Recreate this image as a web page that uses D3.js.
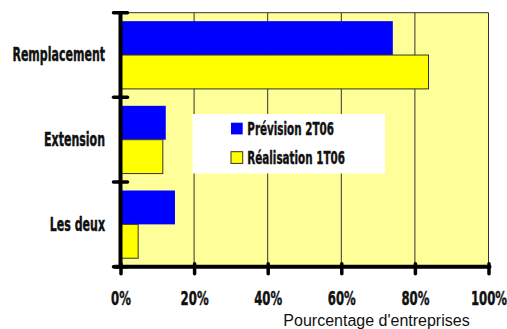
<!DOCTYPE html>
<html>
<head>
<meta charset="utf-8">
<script src="https://cdn.jsdelivr.net/npm/d3@7"></script>
<style>
  html, body { margin: 0; padding: 0; background: #fff; }
  svg { display: block; }
  text.cond { font-family: "DejaVu Sans", sans-serif; font-weight: bold; stroke: #111; stroke-width: 0.45px; }
</style>
</head>
<body>
<svg id="chart" width="507" height="329"></svg>
<script>
// Categories (top to bottom) and the two series, in percent of firms
const categories = ["Remplacement", "Extension", "Les deux"];
const seriesNames = ["Prévision 2T06", "Réalisation 1T06"];
const prevision = [74, 12.3, 14.8];
const realisation = [83.7, 11.5, 4.8];
const xTicks = [0, 20, 40, 60, 80, 100];
const xTitle = "Pourcentage d'entreprises";

const colors = ["#0000FF", "#FFFF00"];
const rows = categories.map((c, i) => ({ cat: c, values: [prevision[i], realisation[i]] }));

// squeeze a bold face horizontally into a narrow, poster-like look
function condense(sel, factor) {
  sel.each(function () {
    const w = this.getComputedTextLength();
    d3.select(this).attr("textLength", w * factor).attr("lengthAdjust", "spacingAndGlyphs");
  });
}

const svg = d3.select("#chart");
const m = { left: 120.5, right: 18.5, top: 12.7, bottom: 62.3 };
const W = 507, H = 329;
const x = d3.scaleLinear().domain([0, 100]).range([m.left, W - m.right]);
const y = d3.scaleBand().domain(categories).range([m.top, H - m.bottom]).paddingInner(0).paddingOuter(0);
const inner = d3.scaleBand().domain(seriesNames).range([0, y.bandwidth()]).paddingOuter(0.25).paddingInner(0);

// plot background
svg.append("rect")
  .attr("x", x(0)).attr("y", y.range()[0])
  .attr("width", x(100) - x(0)).attr("height", y.range()[1] - y.range()[0])
  .attr("fill", "#FFFF99");

// vertical gridlines and top frame
svg.append("g").selectAll("line").data(xTicks.slice(1))
  .join("line")
  .attr("x1", d => x(d)).attr("x2", d => x(d))
  .attr("y1", y.range()[0]).attr("y2", y.range()[1])
  .attr("stroke", "#333").attr("stroke-width", 1);
svg.append("line")
  .attr("x1", x(0)).attr("x2", x(100))
  .attr("y1", y.range()[0]).attr("y2", y.range()[0])
  .attr("stroke", "#333").attr("stroke-width", 1);

// bars
const groups = svg.append("g").selectAll("g").data(rows).join("g")
  .attr("transform", d => `translate(0,${y(d.cat)})`);
groups.selectAll("rect")
  .data(d => d.values.map((v, k) => ({ v, k })))
  .join("rect")
  .attr("x", x(0))
  .attr("y", d => inner(seriesNames[d.k]))
  .attr("width", d => x(d.v) - x(0))
  .attr("height", inner.bandwidth())
  .attr("fill", d => colors[d.k])
  .attr("stroke", d => d.k === 1 ? "#333" : "none")
  .attr("stroke-width", 1);

// x axis: labels are condensed, then right-anchored at half their squeezed width
const xAxis = d3.axisBottom(x).tickValues(xTicks).tickFormat(d => d + "%").tickSize(0).tickPadding(0);
const gx = svg.append("g").attr("transform", `translate(0,${y.range()[1]})`).call(xAxis);
gx.select(".domain").remove();
gx.selectAll(".tick text").attr("class", "cond").attr("font-size", 19.5).attr("fill", "#111")
  .attr("dy", 0).attr("y", 38.3).call(condense, 0.6)
  .each(function () {
    const tl = +this.getAttribute("textLength");
    d3.select(this).attr("text-anchor", "end").attr("x", tl / 2);
  });
gx.selectAll(".tick").append("line")
  .attr("y1", -3).attr("y2", 7)
  .attr("stroke", "#000").attr("stroke-width", 3.5).attr("stroke-linecap", "round");
svg.append("line")
  .attr("x1", x(0) - 6).attr("x2", x(100) + 1)
  .attr("y1", y.range()[1]).attr("y2", y.range()[1])
  .attr("stroke", "#000").attr("stroke-width", 4).attr("stroke-linecap", "round");

// y axis
const yAxis = d3.axisLeft(y).tickSize(0).tickPadding(15.5);
const gy = svg.append("g").attr("transform", `translate(${x(0)},0)`).call(yAxis);
gy.select(".domain").remove();
gy.selectAll(".tick text").attr("class", "cond").attr("font-size", 19.5).attr("fill", "#111")
  .call(condense, 0.565);
const boundaries = categories.map(c => y(c)).concat([y.range()[1]]);
svg.append("g").selectAll("line").data(boundaries).join("line")
  .attr("x1", x(0) - 7).attr("x2", x(0) + 7)
  .attr("y1", d => d).attr("y2", d => d)
  .attr("stroke", "#000").attr("stroke-width", 3.5).attr("stroke-linecap", "round");
svg.append("line")
  .attr("x1", x(0)).attr("x2", x(0))
  .attr("y1", y.range()[0]).attr("y2", y.range()[1])
  .attr("stroke", "#000").attr("stroke-width", 4);

// axis title
svg.append("text")
  .attr("x", 376.5).attr("y", 326)
  .attr("text-anchor", "middle")
  .attr("font-family", "Liberation Sans, Arial, sans-serif")
  .attr("font-size", 16).attr("fill", "#111")
  .text(xTitle);

// legend
const lg = svg.append("g").attr("transform", "translate(192.5,114)");
lg.append("rect").attr("width", 192.5).attr("height", 59.5).attr("fill", "#fff");
const items = lg.selectAll("g").data(seriesNames).join("g")
  .attr("transform", (d, i) => `translate(38.5,${8.7 + i * 29})`);
items.append("rect")
  .attr("width", 11.7).attr("height", 11.7)
  .attr("fill", (d, i) => colors[i])
  .attr("stroke", (d, i) => i === 1 ? "#333" : "none");
items.append("text")
  .attr("class", "cond")
  .attr("x", 16.3).attr("y", 12)
  .attr("font-size", 17.3).attr("fill", "#111")
  .text(d => d)
  .call(condense, 0.6);
</script>
</body>
</html>
